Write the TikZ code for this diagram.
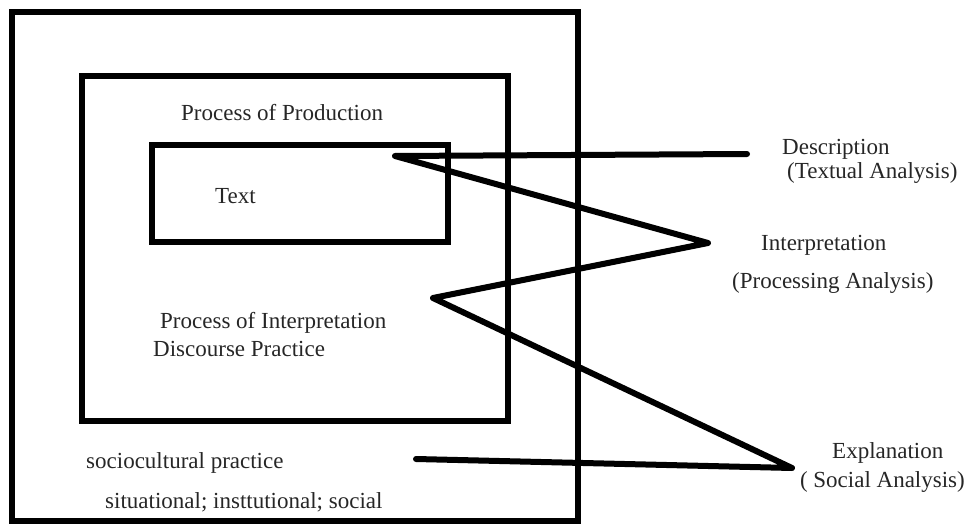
\documentclass[tikz,border=0pt]{standalone}
\usepackage{fontspec}
\setmainfont{Liberation Serif}
\usetikzlibrary{positioning}
\tikzset{
    frame/.style={draw, line width=6.5pt, inner sep=0pt, outer sep=0pt},
    label text/.style={anchor=west, inner sep=0pt, text=black!85, font=\fontsize{23}{25}\selectfont},
    zigzag/.style={line width=6pt, line join=round, line cap=round}
}

\begin{document}
\begin{tikzpicture}[x=1pt, y=-1pt]
    \useasboundingbox (0,0) rectangle (969,527);

    % Nested boxes - sociocultural, discourse, text
    \node[frame, minimum width=566pt, minimum height=509pt] (social) at (295,266.5) {};
    \node[frame, minimum width=426pt, minimum height=345pt] (discourse) at (295,248.5) {};
    \node[frame, minimum width=296pt, minimum height=97pt] (textbox) at (300,193.5) {};

    % Labels inside the boxes
    \node[label text] (prod) at (181,113) {Process of Production};
    \node[label text] (txt) at (215,196) {Text};
    \node[label text] (interp) at (160,323) {Process of Interpretation};
    \node[label text] (disc) at (153,349) {Discourse Practice};
    \node[label text] (socio) at (86,463) {sociocultural practice};
    \node[label text] (sit) at (105,502) {situational; insttutional; social};

    % Labels on the right - analysis levels
    \node[label text] (desc) at (782,149) {Description};
    \node[label text] (desc-sub) at (787,173) {(Textual Analysis)};
    \node[label text] (proc) at (761,245) {Interpretation};
    \node[label text] (proc-sub) at (732,283) {(Processing Analysis)};
    \node[label text] (expl) at (832,453) {Explanation};
    \node[label text, anchor=east] (expl-sub) at (965,482) {( Social Analysis)};

    % Zigzag turning points
    \coordinate (z1) at (747,154);
    \coordinate (z2) at (395,156);
    \coordinate (z3) at (708,243);
    \coordinate (z4) at (433,298);
    \coordinate (z5) at (792,468);
    \coordinate (z6) at (416,459);

    % Zigzag connector
    \draw[zigzag] (z1) -- (z2) -- (z3) -- (z4) -- (z5) -- (z6);
\end{tikzpicture}
\end{document}
